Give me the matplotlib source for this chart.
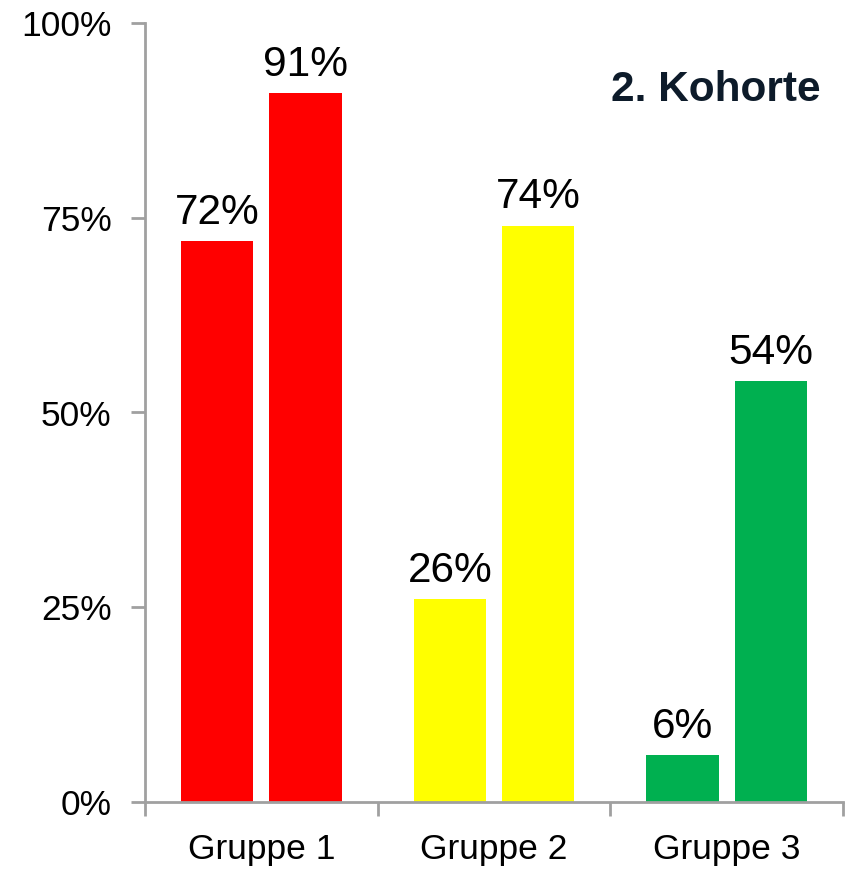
import numpy as np
import matplotlib.pyplot as plt
from matplotlib.ticker import FixedLocator, FuncFormatter

plt.rcParams['font.family'] = ['Liberation Sans', 'DejaVu Sans']

# data
groups = ['Gruppe 1', 'Gruppe 2', 'Gruppe 3']
first_vals = [72, 26, 6]
second_vals = [91, 74, 54]
colors = ['#FF0000', '#FFFF00', '#00B050']

fig = plt.figure(figsize=(8.46, 8.71), dpi=100)
ax = fig.add_axes([145 / 846, 69 / 871, 698 / 846, 779 / 871])

x = np.arange(len(groups))
w = 0.31
off = 0.19
b1 = ax.bar(x - off, first_vals, width=w, color=colors, zorder=2)
b2 = ax.bar(x + off, second_vals, width=w, color=colors, zorder=2)

for bars in (b1, b2):
    for r in bars:
        ax.annotate(f'{r.get_height():.0f}%', (r.get_x() + r.get_width() / 2, r.get_height()),
                    xytext=(0, 6), textcoords='offset points', ha='center', va='bottom',
                    fontsize=30.5, color='black')

ax.set_xlim(-0.5, 2.5)
ax.set_ylim(0, 100)
ax.set_yticks([0, 25, 50, 75, 100])
ax.yaxis.set_major_formatter(FuncFormatter(lambda v, p: f'{v:.0f}%'))

# category ticks at boundaries, labels centered
ax.xaxis.set_major_locator(FixedLocator([-0.5, 0.5, 1.5, 2.5]))
ax.xaxis.set_minor_locator(FixedLocator(list(x)))
ax.set_xticklabels([], minor=False)
ax.set_xticklabels(groups, minor=True)
ax.tick_params(axis='x', which='major', length=10, width=2, color='#A0A0A0', direction='out')
ax.tick_params(axis='x', which='minor', length=0, labelsize=25.5, pad=22)
ax.tick_params(axis='y', length=10, width=2, color='#A0A0A0', labelsize=25.5, pad=14)

for s in ['top', 'right']:
    ax.spines[s].set_visible(False)
for s in ['left', 'bottom']:
    ax.spines[s].set_color('#A0A0A0')
    ax.spines[s].set_linewidth(2)

ax.text(716 / 846, 1 - 90 / 871, '2. Kohorte', transform=fig.transFigure, ha='center', va='center',
        fontsize=30.5, fontweight='bold', color='#0D1B2A')

fig.savefig('out.png', dpi=100)
